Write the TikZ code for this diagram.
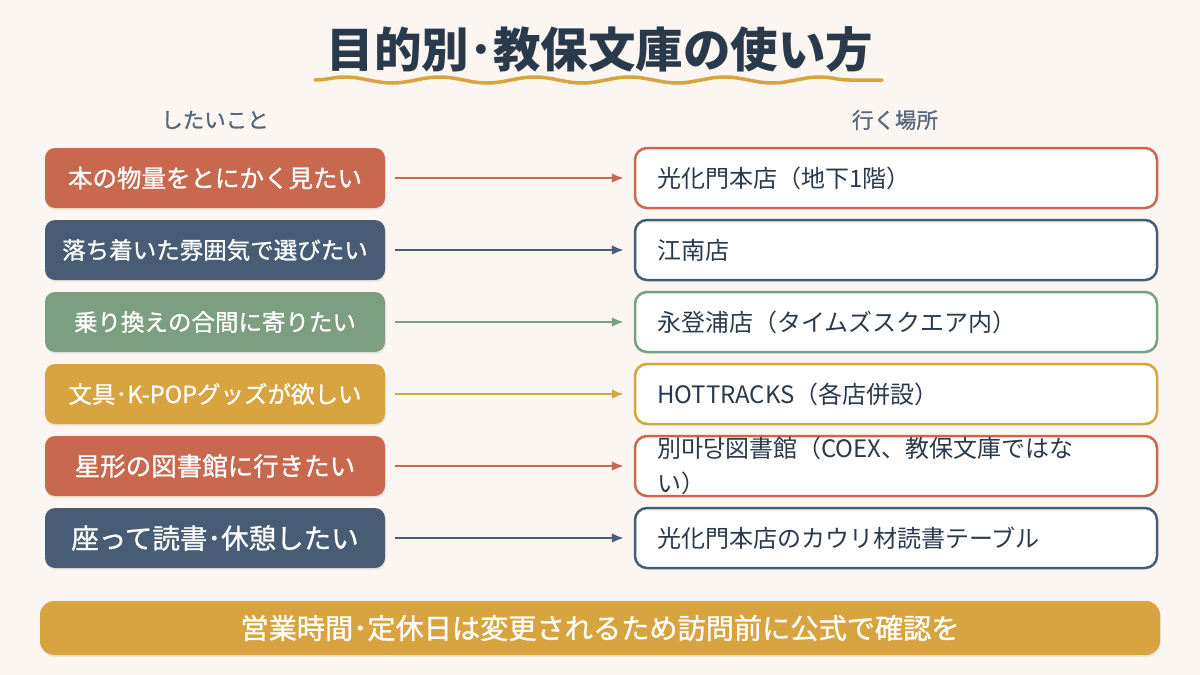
\documentclass[tikz,border=0pt]{standalone}
\usepackage{fontspec}
\newfontfamily\jp{Noto Sans CJK JP}
\newfontfamily\jpm[FakeBold=0.9]{Noto Sans CJK JP}
\usetikzlibrary{shadows,decorations.pathmorphing,arrows.meta}
\definecolor{bg}{HTML}{FBF6F1}
\definecolor{ink}{HTML}{2B3A4B}
\definecolor{gray}{HTML}{56677B}
\definecolor{terra}{HTML}{C8694F}
\definecolor{navy}{HTML}{485D75}
\definecolor{sage}{HTML}{7B9F80}
\definecolor{gold}{HTML}{D8A440}
\tikzset{
  want/.style={fill=#1, rounded corners=10pt, minimum width=340pt, minimum height=60pt,
    inner sep=0pt, text=white,
    drop shadow={shadow xshift=1pt, shadow yshift=-2pt, opacity=0.12}},
  place/.style={draw=#1, line width=2.5pt, fill=white, rounded corners=12pt,
    text width=478pt, inner xsep=22pt, inner ysep=0pt, minimum height=60pt,
    align=left, text=ink, font={\jp\fontsize{24}{35}\selectfont}},
  link/.style={draw=#1, line width=2.5pt, -{Latex[length=12pt,width=10pt]},
    shorten <=10pt, shorten >=10pt},
  head/.style={text=gray, font={\jpm\fontsize{21.5}{25}\selectfont}}
}
\begin{document}
\begin{tikzpicture}[x=1pt,y=-1pt]
\fill[bg] (0,0) rectangle (1200,675);
\useasboundingbox (0,0) rectangle (1200,675);

\node[text=ink, font={\jp\bfseries\fontsize{47.5}{50}\selectfont}] (title) at (600,50) {目的別･教保文庫の使い方};
\coordinate (w1) at (315,80);
\coordinate (w2) at (882,80);
\draw[gold, line width=3.5pt, line cap=round, decorate,
  decoration={snake, segment length=95pt, amplitude=3pt}] (w1) -- (w2);

\node[head] (hl) at (215,120) {したいこと};
\node[head] (hr) at (895,120) {行く場所};

\node[want=terra, font={\jpm\fontsize{24.5}{30}\selectfont}] (l1) at (215,178) {本の物量をとにかく見たい};
\node[want=navy, font={\jpm\fontsize{23.5}{30}\selectfont}] (l2) at (215,250) {落ち着いた雰囲気で選びたい};
\node[want=sage, font={\jpm\fontsize{23.5}{30}\selectfont}] (l3) at (215,322) {乗り換えの合間に寄りたい};
\node[want=gold, font={\jpm\fontsize{23.5}{30}\selectfont}] (l4) at (215,394) {文具･K-POPグッズが欲しい};
\node[want=terra, font={\jpm\fontsize{25.5}{30}\selectfont}] (l5) at (215,466) {星形の図書館に行きたい};
\node[want=navy, font={\jpm\fontsize{27.5}{30}\selectfont}] (l6) at (215,538) {座って読書･休憩したい};

\node[place=terra] (r1) at (896,178) {光化門本店（地下1階）};
\node[place=navy] (r2) at (896,250) {江南店};
\node[place=sage] (r3) at (896,322) {永登浦店（タイムズスクエア内）};
\node[place=gold] (r4) at (896,394) {HOTTRACKS（各店併設）};
\node[place=terra] (r5) at (896,466) {別마당図書館（COEX、教保文庫ではな\\い）};
\node[place=navy] (r6) at (896,538) {光化門本店のカウリ材読書テーブル};

\draw[link=terra] (l1) -- (r1);
\draw[link=navy] (l2) -- (r2);
\draw[link=sage] (l3) -- (r3);
\draw[link=gold] (l4) -- (r4);
\draw[link=terra] (l5) -- (r5);
\draw[link=navy] (l6) -- (r6);

\node[fill=gold, rounded corners=14pt, minimum width=1120pt, minimum height=54pt,
  text=white, font={\jpm\fontsize{28.2}{30}\selectfont},
  drop shadow={shadow xshift=1pt, shadow yshift=-2pt, opacity=0.12}] (note) at (600,628)
  {営業時間･定休日は変更されるため訪問前に公式で確認を};
\end{tikzpicture}
\end{document}
